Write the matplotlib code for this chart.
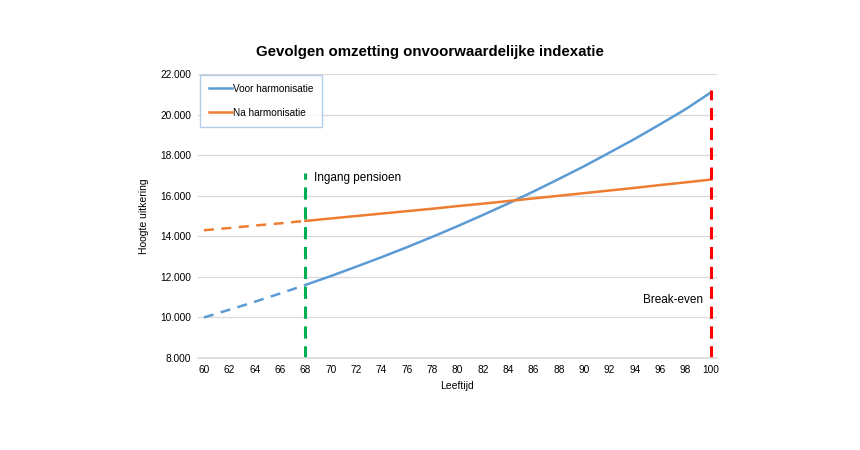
import matplotlib.pyplot as plt
from matplotlib.ticker import FuncFormatter

# Data
leeftijd = [60, 62, 64, 66, 68, 70, 72, 74, 76, 78, 80,
            82, 84, 86, 88, 90, 92, 94, 96, 98, 100]
voor_harmonisatie = [10000, 10380, 10770, 11180, 11600, 12040, 12500, 12970, 13460, 13970, 14500,
                     15050, 15620, 16210, 16830, 17460, 18130, 18810, 19530, 20270, 21100]
na_harmonisatie = [14300, 14410, 14530, 14640, 14760, 14880, 15000, 15120, 15240, 15360, 15490,
                   15610, 15740, 15870, 16000, 16130, 16260, 16390, 16530, 16660, 16800]
ingang_leeftijd = 68
ingang_top = 17100
break_even_leeftijd = 100
break_even_top = 21200

plt.rcParams['font.family'] = ['Liberation Sans', 'DejaVu Sans']

fig = plt.figure(figsize=(8.6, 4.5), dpi=100)
ax = fig.add_axes([0.2302, 0.2044, 0.6035, 0.631])

blue = '#5b9bd5'
orange = '#ed7d31'

# split at pension start: dashed before, solid after
k = leeftijd.index(ingang_leeftijd)
ax.plot(leeftijd[:k + 1], voor_harmonisatie[:k + 1], color=blue, lw=1.8, dashes=(4, 3))
ax.plot(leeftijd[k:], voor_harmonisatie[k:], color=blue, lw=1.8, label='Voor harmonisatie')
ax.plot(leeftijd[:k + 1], na_harmonisatie[:k + 1], color=orange, lw=1.8, dashes=(4, 3))
ax.plot(leeftijd[k:], na_harmonisatie[k:], color=orange, lw=1.8, label='Na harmonisatie')

# vertical markers
ax.plot([ingang_leeftijd, ingang_leeftijd], [8000, ingang_top], color='#00b050', lw=2.2, dashes=(4, 2.5))
ax.plot([break_even_leeftijd, break_even_leeftijd], [8000, break_even_top], color='#ff0000', lw=2.2, dashes=(4, 2.5))

ax.text(68.7, 16900, 'Ingang pensioen', fontsize=8.5, va='center', ha='left')
ax.text(99.4, 10850, 'Break-even', fontsize=8.5, va='center', ha='right')

ax.set_xlim(59.53, 100.47)
ax.set_ylim(8000, 22000)
ax.set_xticks(leeftijd)
ax.set_yticks(range(8000, 22001, 2000))
ax.yaxis.set_major_formatter(FuncFormatter(lambda v, p: f'{int(v):,}'.replace(',', '.')))
ax.tick_params(axis='both', length=0, labelsize=7.3, pad=5)
ax.grid(axis='y', color='#d9d9d9', lw=0.9)
ax.set_axisbelow(True)
for s in ['top', 'right', 'left']:
    ax.spines[s].set_visible(False)
ax.spines['bottom'].set_color('#d9d9d9')
ax.spines['bottom'].set_linewidth(1.2)

ax.set_xlabel('Leeftijd', fontsize=7.5, labelpad=4)
ax.set_ylabel('Hoogte uitkering', fontsize=7.5, labelpad=8)

fig.text(0.5, 0.884, 'Gevolgen omzetting onvoorwaardelijke indexatie',
         ha='center', va='center', fontsize=10.8, fontweight='bold')

leg = ax.legend(loc='upper left', bbox_to_anchor=(0.0, 1.005), fontsize=7.2,
                frameon=True, fancybox=False, handlelength=2.3, handletextpad=0.1,
                labelspacing=1.4, borderpad=0.9, borderaxespad=0.2)
leg.get_frame().set_edgecolor('#9dc3e6')
leg.get_frame().set_linewidth(1.0)
leg._legend_box.align = 'left'
# shift handles a bit to the right inside the box, as in the original
leg.set_bbox_to_anchor((0.0, 1.005))

fig.savefig('out.png', dpi=100)
